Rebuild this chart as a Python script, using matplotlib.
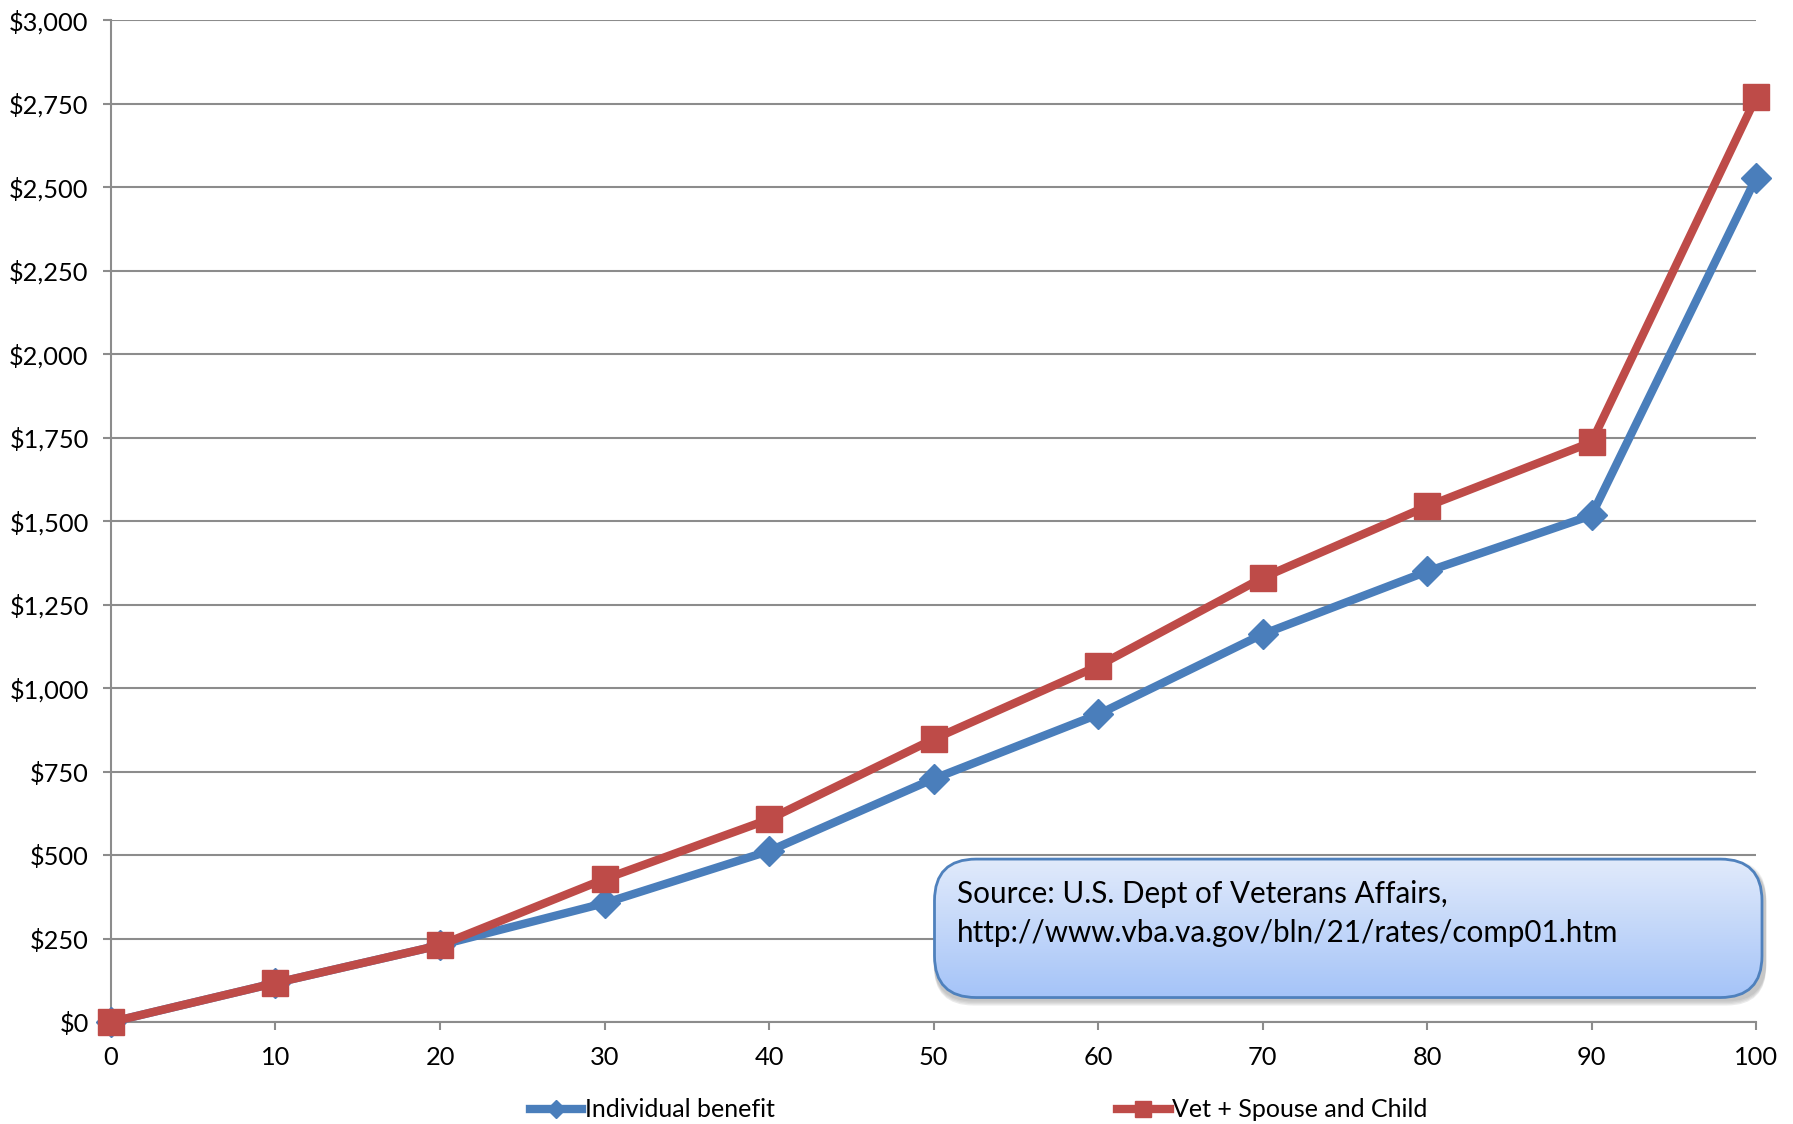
import numpy as np
import matplotlib.pyplot as plt
from matplotlib.patches import FancyBboxPatch
from matplotlib.ticker import FuncFormatter

plt.rcParams['font.family'] = ['Lato', 'DejaVu Sans']

# Monthly compensation by disability rating
rating = [0, 10, 20, 30, 40, 50, 60, 70, 80, 90, 100]
individual = [0, 117, 230, 356, 512, 728, 921, 1161, 1349, 1517, 2527]
vet_family = [0, 117, 230, 428, 607, 847, 1066, 1330, 1544, 1736, 2768]

blue = '#4a7ebb'
red = '#be4b48'
grid_gray = '#8c8c8c'

fig = plt.figure(figsize=(17.93, 11.24), dpi=100)
ax = fig.add_axes([0.0619, 0.0907, 0.9175, 0.8915])

ax.plot(rating, individual, color=blue, lw=6, marker='D', ms=15,
        mec=blue, mfc=blue, label='Individual benefit', zorder=3, clip_on=False)
ax.plot(rating, vet_family, color=red, lw=6, marker='s', ms=19,
        mec=red, mfc=red, label='Vet + Spouse and Child', zorder=4, clip_on=False)

ax.set_xlim(0, 100)
ax.set_ylim(0, 3000)
ax.set_xticks(rating)
ax.set_yticks(np.arange(0, 3001, 250))
ax.yaxis.set_major_formatter(FuncFormatter(lambda v, p: f'${int(v):,}'))
ax.grid(axis='y', color=grid_gray, lw=1.5, zorder=0)
ax.set_axisbelow(True)
for s in ['top', 'right']:
    ax.spines[s].set_visible(False)
for s in ['left', 'bottom']:
    ax.spines[s].set_color(grid_gray)
    ax.spines[s].set_linewidth(1.5)
ax.tick_params(axis='both', direction='out', length=6, width=1.5, color=grid_gray,
               labelsize=18.3, labelcolor='black')
ax.tick_params(axis='y', pad=10)
ax.tick_params(axis='x', pad=11)

# source callout with gradient fill and soft shadow
bx, by, bw, bh = 0.5198, 0.111, 0.4643, 0.1262
for i, a in enumerate([0.05, 0.05, 0.06, 0.08]):
    off = 0.002 + i * 0.0012
    sh = FancyBboxPatch((bx + 0.001, by - off), bw, bh,
                        boxstyle='round,pad=0,rounding_size=0.022',
                        transform=fig.transFigure, fc='black', ec='none',
                        alpha=a, zorder=5, mutation_aspect=1793 / 1124)
    fig.patches.append(sh)

bax = fig.add_axes([bx, by, bw, bh], zorder=6)
bax.set_xlim(0, 1)
bax.set_ylim(0, 1)
bax.axis('off')
grad = np.linspace(0, 1, 256).reshape(-1, 1)
top_c = np.array([0xe2, 0xeb, 0xfb]) / 255
bot_c = np.array([0xa4, 0xc3, 0xf8]) / 255
img = top_c * (1 - grad[..., None]) + bot_c * grad[..., None]
img = np.repeat(img, 2, axis=1)
box = FancyBboxPatch((0.003, 0.012), 0.994, 0.976,
                     boxstyle='round,pad=0,rounding_size=0.05',
                     mutation_aspect=bw * 1793 / (bh * 1124),
                     fc='none', ec='#4f81bd', lw=2, transform=bax.transAxes)
bax.add_patch(box)
im = bax.imshow(img, extent=[0, 1, 0, 1], aspect='auto', zorder=0)
im.set_clip_path(box)
bax.text(0.03, 0.745, 'Source: U.S. Dept of Veterans Affairs,', fontsize=21.3,
         va='center', ha='left', transform=bax.transAxes)
bax.text(0.03, 0.465, 'http://www.vba.va.gov/bln/21/rates/comp01.htm', fontsize=21.3,
         va='center', ha='left', transform=bax.transAxes)

fig.legend(loc='center left', bbox_to_anchor=(0.2955, 0.0125), ncol=2, frameon=False,
           fontsize=18, columnspacing=13.7, handlelength=2.1, handletextpad=0.1,
           borderpad=0, borderaxespad=0, markerscale=0.6)

fig.savefig('out.png', dpi=100)
